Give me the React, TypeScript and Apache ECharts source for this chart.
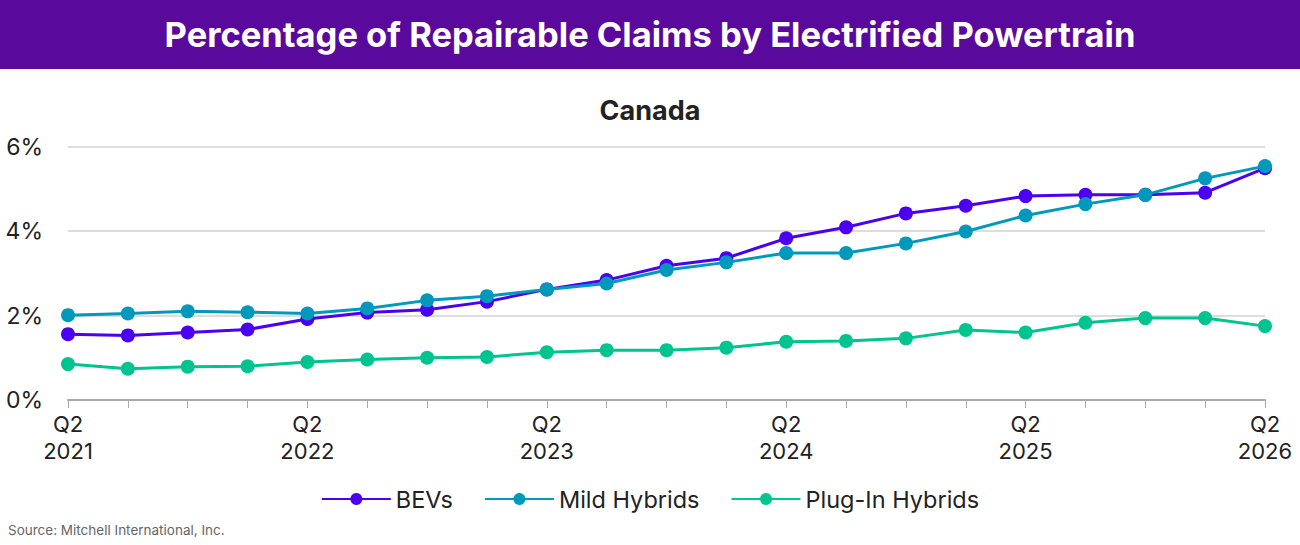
import React, { useEffect, useRef } from "react";
import * as echarts from "echarts";

const quarters = [
  "Q2\n2021", "Q3\n2021", "Q4\n2021", "Q1\n2022",
  "Q2\n2022", "Q3\n2022", "Q4\n2022", "Q1\n2023",
  "Q2\n2023", "Q3\n2023", "Q4\n2023", "Q1\n2024",
  "Q2\n2024", "Q3\n2024", "Q4\n2024", "Q1\n2025",
  "Q2\n2025", "Q3\n2025", "Q4\n2025", "Q1\n2026",
  "Q2\n2026",
];

const bevs = [1.56, 1.53, 1.6, 1.67, 1.92, 2.07, 2.14, 2.33, 2.62, 2.84, 3.18, 3.36, 3.83, 4.09, 4.42, 4.6, 4.83, 4.86, 4.86, 4.91, 5.49];
const mildHybrids = [2.01, 2.05, 2.1, 2.08, 2.05, 2.17, 2.36, 2.46, 2.62, 2.76, 3.08, 3.26, 3.48, 3.48, 3.71, 3.99, 4.37, 4.64, 4.86, 5.25, 5.54];
const plugInHybrids = [0.85, 0.74, 0.79, 0.8, 0.9, 0.96, 1.0, 1.02, 1.13, 1.18, 1.18, 1.24, 1.38, 1.4, 1.46, 1.66, 1.6, 1.83, 1.94, 1.94, 1.75];

const seriesNames = ["BEVs", "Mild Hybrids", "Plug-In Hybrids"];
const seriesColors = ["#4B00F2", "#0099BB", "#00C48F"];

const FONT = "Inter, 'Noto Sans', sans-serif";

export default function App() {
  const ref = useRef<HTMLDivElement>(null);

  useEffect(() => {
    document.body.style.margin = "0";
    if (!ref.current) return;
    const chart = echarts.init(ref.current, undefined, { renderer: "svg" });
    const data = [bevs, mildHybrids, plugInHybrids];
    chart.setOption({
      animation: false,
      backgroundColor: "#ffffff",
      textStyle: { fontFamily: FONT },
      graphic: [
        {
          type: "rect",
          left: 0,
          top: 0,
          shape: { width: 1300, height: 69 },
          style: { fill: "#590A9D" },
          z: 0,
        },
      ],
      title: [
        {
          text: "Percentage of Repairable Claims by Electrified Powertrain",
          left: "center",
          top: 17,
          padding: 0,
          textStyle: { color: "#ffffff", fontSize: 34.5, fontWeight: "bold", fontFamily: FONT },
        },
        {
          text: "Canada",
          left: "center",
          top: 97,
          padding: 0,
          textStyle: { color: "#222222", fontSize: 27, fontWeight: "bold", fontFamily: FONT },
        },
        {
          text: "Source: Mitchell International, Inc.",
          left: 8,
          top: 523,
          padding: 0,
          textStyle: { color: "#666666", fontSize: 13.5, fontWeight: "normal", fontFamily: FONT },
        },
      ],
      legend: {
        top: 487,
        left: "center",
        padding: 0,
        itemWidth: 69,
        itemHeight: 15,
        itemGap: 31,
        textStyle: { fontSize: 23.5, color: "#222222", fontFamily: FONT },
        data: seriesNames,
      },
      grid: {
        left: 68,
        right: 35,
        top: 146.7,
        bottom: 145,
        containLabel: false,
        outerBoundsMode: "none",
      },
      xAxis: {
        type: "category",
        data: quarters,
        boundaryGap: false,
        axisLine: { lineStyle: { color: "#aaaaaa", width: 2 } },
        axisTick: { alignWithLabel: true, interval: 0, length: 8, lineStyle: { color: "#aaaaaa" } },
        axisLabel: {
          interval: 3,
          color: "#222222",
          fontSize: 22,
          lineHeight: 27,
          margin: 10,
          fontFamily: FONT,
        },
        splitLine: { show: false },
      },
      yAxis: {
        type: "value",
        min: 0,
        max: 6,
        interval: 2,
        axisLabel: {
          formatter: "{value}%",
          color: "#222222",
          fontSize: 23,
          margin: 25,
          fontFamily: FONT,
        },
        axisLine: { show: false },
        axisTick: { show: false },
        splitLine: { lineStyle: { color: "#dddddd", width: 2 } },
      },
      series: seriesNames.map((name, i) => ({
        name,
        type: "line",
        data: data[i],
        symbol: "circle",
        symbolSize: 14,
        color: seriesColors[i],
        lineStyle: { width: 3, color: seriesColors[i] },
        itemStyle: { color: seriesColors[i] },
        z: 2 + i,
      })),
    });
    return () => chart.dispose();
  }, []);

  return <div ref={ref} style={{ width: 1300, height: 545 }} />;
}
